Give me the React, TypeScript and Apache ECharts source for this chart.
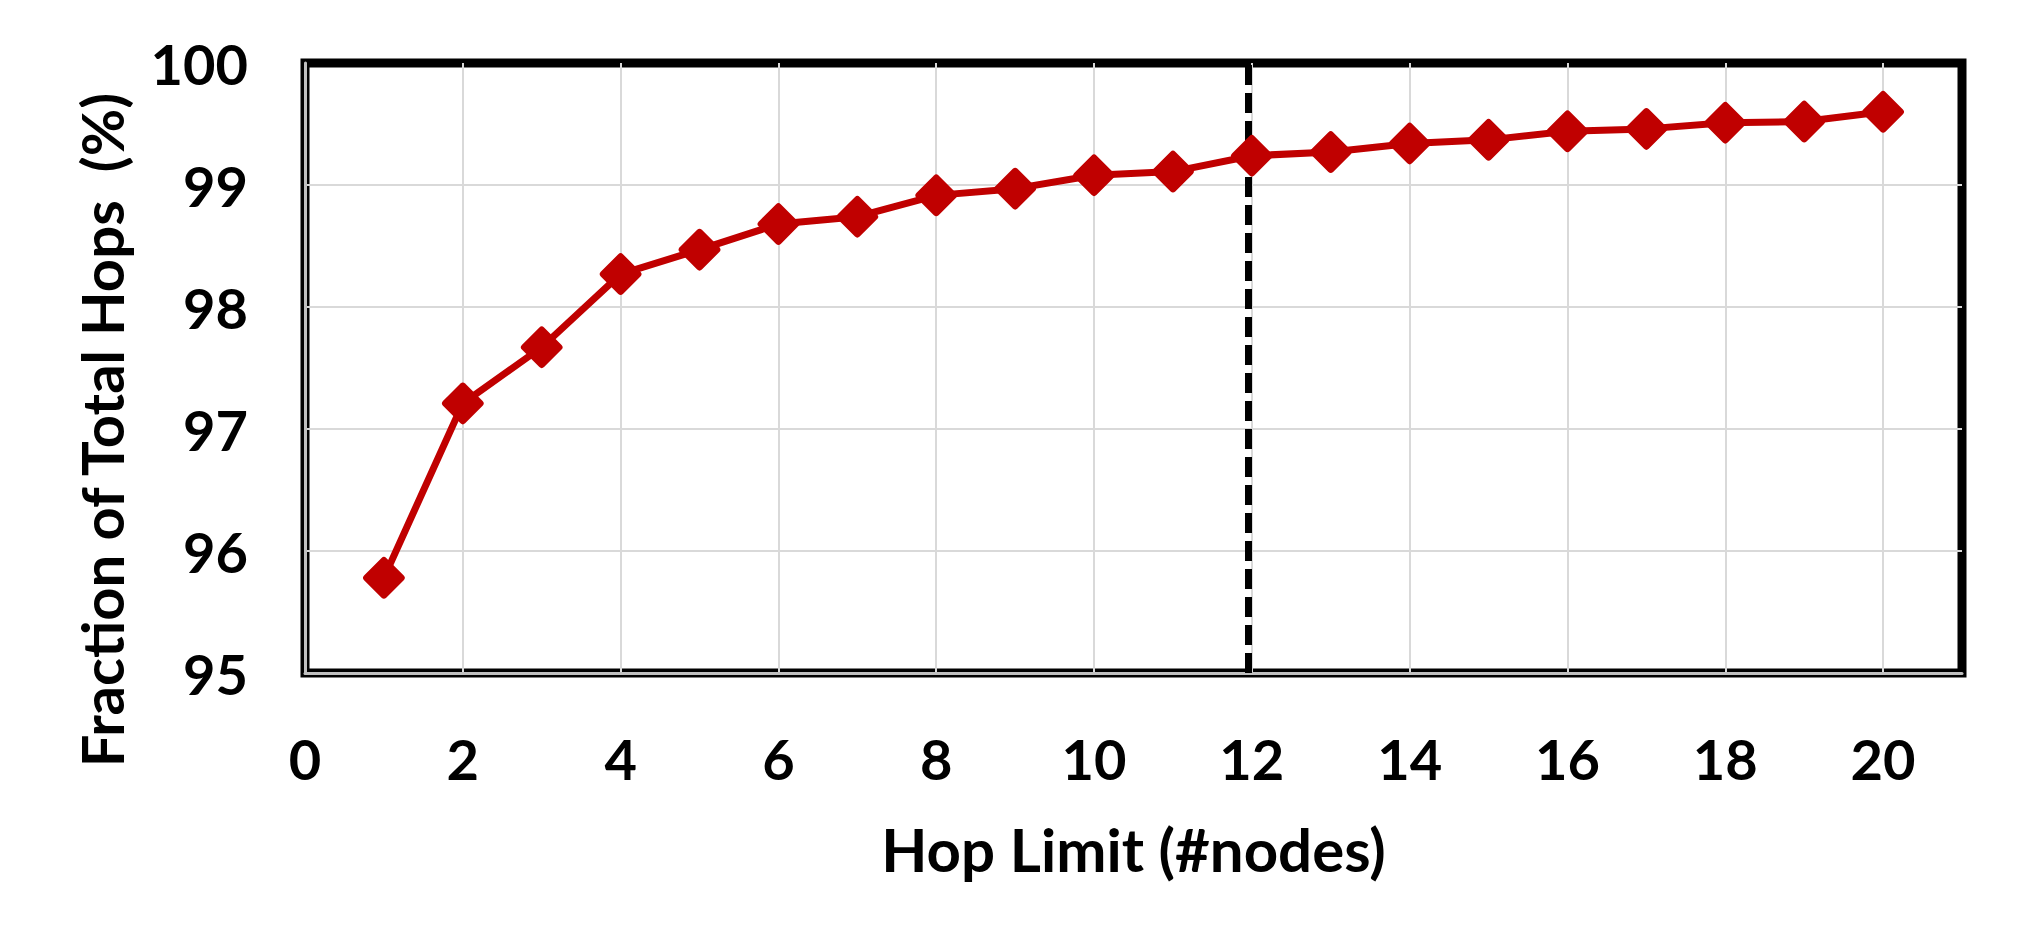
import React, { useEffect, useRef } from "react";
import * as echarts from "echarts";

const hopLimits = [1, 2, 3, 4, 5, 6, 7, 8, 9, 10, 11, 12, 13, 14, 15, 16, 17, 18, 19, 20];
const fractionPct = [95.78, 97.21, 97.67, 98.27, 98.47, 98.68, 98.74, 98.915, 98.97, 99.08, 99.11, 99.24, 99.27, 99.34, 99.37, 99.44, 99.46, 99.51, 99.52, 99.6];
const chosenHopLimit = 11.95;
const xTitle = "Hop Limit (#nodes)";
const yTitle = "Fraction of Total Hops  (%)";

const FONT = "Lato";
const RED = "#C00000";
const diamond =
  "path://M17.9,2.1 Q20,0 22.1,2.1 L37.9,17.9 Q40,20 37.9,22.1 L22.1,37.9 Q20,40 17.9,37.9 L2.1,22.1 Q0,20 2.1,17.9 Z";

export default function App() {
  const ref = useRef<HTMLDivElement>(null);
  useEffect(() => {
    if (!ref.current) return;
    const chart = echarts.init(ref.current, null, { renderer: "svg" });
    chart.setOption({
      animation: false,
      backgroundColor: "#ffffff",
      grid: {
        left: 305,
        top: 63,
        width: 1657,
        height: 610,
        show: true,
        borderColor: "#000000",
        borderWidth: 9,
        backgroundColor: "transparent",
      },
      xAxis: {
        type: "value",
        min: 0,
        max: 21,
        interval: 2,
        name: xTitle,
        nameLocation: "middle",
        nameGap: 146,
        nameTextStyle: { fontFamily: FONT, fontWeight: "bold", fontSize: 60, color: "#000" },
        axisLine: { show: true, onZero: false, lineStyle: { color: "#bfbfbf", width: 3 } },
        axisTick: { show: false },
        axisLabel: {
          fontFamily: FONT,
          fontWeight: "bold",
          fontSize: 56,
          color: "#000",
          margin: 57,
          formatter: (v: number) => (v % 2 === 0 ? String(v) : ""),
        },
        splitLine: { show: true, showMinLine: false, showMaxLine: false, lineStyle: { color: "#d9d9d9", width: 2 } },
      },
      yAxis: {
        type: "value",
        min: 95,
        max: 100,
        interval: 1,
        axisLine: { show: true, onZero: false, lineStyle: { color: "#bfbfbf", width: 3 } },
        axisTick: { show: false },
        axisLabel: {
          fontFamily: FONT,
          fontWeight: "bold",
          fontSize: 56,
          color: "#000",
          margin: 57,
        },
        splitLine: { show: true, showMinLine: false, showMaxLine: false, lineStyle: { color: "#d9d9d9", width: 2 } },
      },
      graphic: [
        {
          type: "text",
          x: 101,
          y: 430,
          rotation: Math.PI / 2,
          style: {
            text: yTitle,
            fontFamily: FONT,
            fontWeight: "bold",
            fontSize: 58,
            fill: "#000",
            align: "center",
            verticalAlign: "middle",
          },
        },
      ],
      series: [
        {
          type: "line",
          data: hopLimits.map((h, i) => [h, fractionPct[i]]),
          color: RED,
          lineStyle: { color: RED, width: 7 },
          symbol: diamond,
          symbolSize: 42,
          itemStyle: { color: RED },
          z: 3,
          markLine: {
            silent: true,
            symbol: "none",
            label: { show: false },
            lineStyle: { color: "#000", width: 7, type: [20, 8] },
            data: [{ xAxis: chosenHopLimit }],
            z: 2,
          },
        },
      ],
    });
    return () => chart.dispose();
  }, []);
  return (
    <div
      ref={ref}
      style={{ position: "fixed", left: 0, top: 0, width: 2044, height: 944, background: "#fff" }}
    />
  );
}
